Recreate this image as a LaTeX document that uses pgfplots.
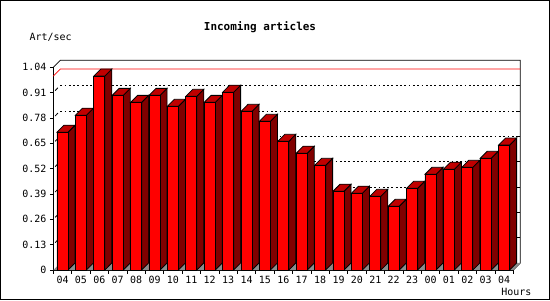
\documentclass[border=0pt]{standalone}
\usepackage{pgfplots}
\pgfplotsset{compat=1.18}
\usepackage{pgfplotstable}
\usepackage{fontspec}
\newfontfamily\monofont{DejaVu Sans Mono}
\definecolor{frontred}{HTML}{FF0000}
\definecolor{topred}{HTML}{C00000}
\definecolor{sidered}{HTML}{800000}
\definecolor{floorgray}{HTML}{8C8C8C}

\pgfplotstableread{
x v
0 0.707
1 0.794
2 0.995
3 0.896
4 0.860
5 0.896
6 0.840
7 0.891
8 0.860
9 0.912
10 0.814
11 0.763
12 0.660
13 0.599
14 0.537
15 0.404
16 0.394
17 0.378
18 0.327
19 0.419
20 0.491
21 0.517
22 0.527
23 0.573
24 0.641
}\data

\def\dx{0.38}
\def\dy{0.036}
\def\vmax{0.995}

\begin{document}
\begin{tikzpicture}[x=1bp,y=1bp]
\draw[line width=1bp] (0.5,0.5) rectangle (549.5,299.5);
\node[font=\monofont\bfseries\fontsize{11}{13}\selectfont] at (260,273) {Incoming articles};
\node[font=\monofont\fontsize{10}{12}\selectfont, anchor=west] at (26,263) {Art/sec};
\node[font=\monofont\fontsize{10}{12}\selectfont, anchor=east] at (535,8.5) {Hours};
\begin{axis}[
  at={(53.3bp,30bp)}, anchor=south west,
  scale only axis, width=460bp, height=202.7bp,
  xmin=0, xmax=25, ymin=0, ymax=1.04,
  clip=false,
  axis x line*=bottom, axis y line*=left,
  axis line style={black, line width=0.8bp},
  xtick={0,...,25},
  x tick label as interval,
  xticklabels={04,05,06,07,08,09,10,11,12,13,14,15,16,17,18,19,20,21,22,23,00,01,02,03,04},
  ytick={0,0.13,0.26,0.39,0.52,0.65,0.78,0.91,1.04},
  yticklabels={0,0.13,0.26,0.39,0.52,0.65,0.78,0.91,1.04},
  tick align=outside,
  major tick length=3.5bp,
  tick style={black, line width=0.8bp},
  ticklabel style={font=\monofont\fontsize{10}{12}\selectfont},
  xticklabel style={yshift=1bp},
  yticklabel style={xshift=0bp},
]
% back panel grid
\pgfplotsinvokeforeach{0.13,0.26,0.39,0.52,0.65,0.78,0.91}{
  \draw[black, line width=0.8bp, dash pattern=on 1.8bp off 2.5bp] (axis cs:\dx,#1+\dy) -- (axis cs:25+\dx,#1+\dy);
  \draw[black, line width=0.8bp] (axis cs:25+\dx,#1+\dy) -- ++(-3bp,0);
  \draw[black, line width=0.8bp] (axis cs:0.1,#1+0.01) -- (axis cs:0.25,#1+0.025);
}
% back frame
\draw[black, line width=0.8bp] (axis cs:0,1.04) -- (axis cs:\dx,1.04+\dy) -- (axis cs:25+\dx,1.04+\dy) -- (axis cs:25+\dx,\dy) -- (axis cs:25,0);
% max line
\draw[red, line width=0.8bp] (axis cs:0,\vmax) -- (axis cs:\dx,\vmax+\dy) -- (axis cs:25+\dx,\vmax+\dy);
% floor
\addplot[draw=none, fill=floorgray] coordinates {(0,0) (25,0) (25.38,0.036) (0.38,0.036)} -- cycle;
% side and top faces
\pgfplotsinvokeforeach{0,...,24}{
  \pgfplotstablegetelem{#1}{v}\of\data
  \pgfmathsetmacro\vv{\pgfplotsretval}
  \pgfmathsetmacro\xl{#1+0.2}
  \pgfmathsetmacro\xr{#1+0.8}
  \pgfmathsetmacro\xlb{#1+0.2+\dx}
  \pgfmathsetmacro\xrb{#1+0.8+\dx}
  \pgfmathsetmacro\vt{\vv+\dy}
  \edef\temp{%
    \noexpand\addplot[draw=black, line width=0.8bp, fill=sidered] coordinates {(\xr,0) (\xrb,\dy) (\xrb,\vt) (\xr,\vv)} -- cycle;
    \noexpand\addplot[draw=black, line width=0.8bp, fill=topred] coordinates {(\xl,\vv) (\xr,\vv) (\xrb,\vt) (\xlb,\vt)} -- cycle;
  }\temp
}
% front faces
\addplot[ybar, bar width=0.6, bar shift=0, draw=black, line width=0.8bp, fill=frontred] table[x expr=\thisrow{x}+0.5, y=v] {\data};
\end{axis}
\end{tikzpicture}
\end{document}
